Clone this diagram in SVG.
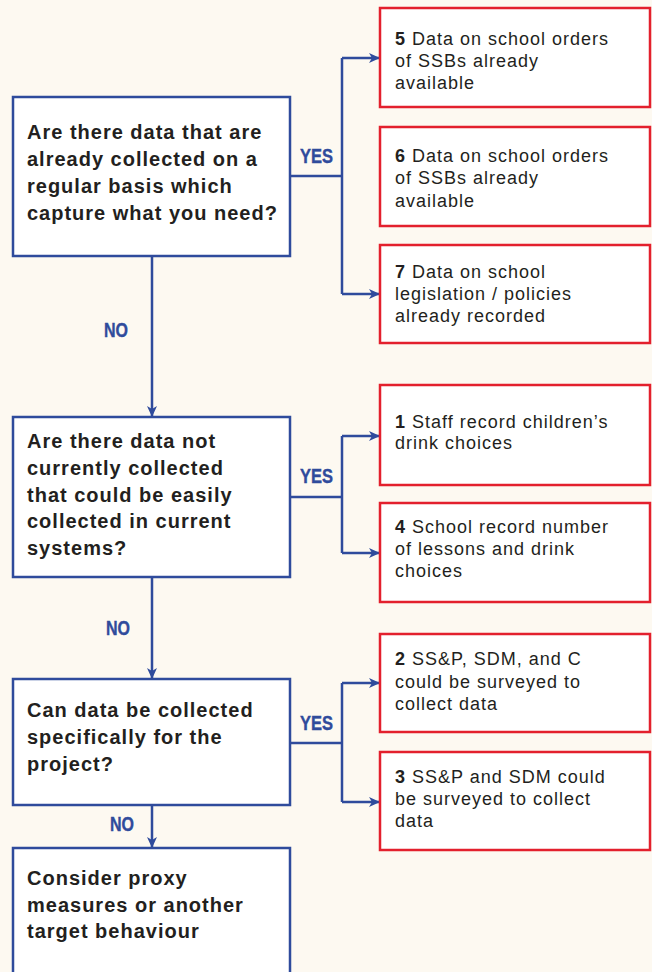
<svg xmlns="http://www.w3.org/2000/svg" width="652" height="972" viewBox="0 0 652 972">
  <defs>
    <style>
      .q { fill: #ffffff; stroke: #2f4b9c; stroke-width: 2.5; }
      .r { fill: #ffffff; stroke: #e3202d; stroke-width: 2.5; }
      .qt { font-family: "Liberation Sans", Arial, sans-serif; font-weight: bold; font-size: 20px; letter-spacing: 1px; fill: #231f20; }
      .rt { font-family: "Liberation Sans", Arial, sans-serif; font-size: 18px; letter-spacing: 1px; fill: #231f20; }
      .rt tspan.n { font-weight: bold; }
      .lbl { font-family: "Liberation Sans", Arial, sans-serif; font-weight: bold; font-size: 21px; fill: #2f4b9c; stroke: #2f4b9c; stroke-width: 0.4; }
      .c { fill: none; stroke: #2f4b9c; stroke-width: 2.5; }
    </style>
    <marker id="arr" markerUnits="userSpaceOnUse" markerWidth="12" markerHeight="12" viewBox="0 0 12 12" refX="11" refY="6" orient="auto">
      <path d="M0,1 L11,6 L0,11 L3,6 Z" fill="#2f4b9c"/>
    </marker>
  </defs>

  <rect width="652" height="972" fill="#fdf9f1"/>

  <!-- connectors -->
  <g id="connectors">
    <!-- question 1 -->
    <path class="c" d="M290,176 H342"/>
    <path class="c" d="M342,58 V294"/>
    <path class="c" d="M342,58 H380" marker-end="url(#arr)"/>
    <path class="c" d="M342,294 H380" marker-end="url(#arr)"/>
    <path class="c" d="M152,256 V417" marker-end="url(#arr)"/>
    <!-- question 2 -->
    <path class="c" d="M290,497 H342"/>
    <path class="c" d="M342,436 V553"/>
    <path class="c" d="M342,436 H380" marker-end="url(#arr)"/>
    <path class="c" d="M342,553 H380" marker-end="url(#arr)"/>
    <path class="c" d="M152,577 V679" marker-end="url(#arr)"/>
    <!-- question 3 -->
    <path class="c" d="M290,743 H342"/>
    <path class="c" d="M342,683 V802"/>
    <path class="c" d="M342,683 H380" marker-end="url(#arr)"/>
    <path class="c" d="M342,802 H380" marker-end="url(#arr)"/>
    <path class="c" d="M152,805 V848" marker-end="url(#arr)"/>

    <text class="lbl" x="300" y="163" textLength="33" lengthAdjust="spacingAndGlyphs">YES</text>
    <text class="lbl" x="104" y="337" textLength="24" lengthAdjust="spacingAndGlyphs">NO</text>
    <text class="lbl" x="300" y="483" textLength="33" lengthAdjust="spacingAndGlyphs">YES</text>
    <text class="lbl" x="106" y="635" textLength="24" lengthAdjust="spacingAndGlyphs">NO</text>
    <text class="lbl" x="300" y="730" textLength="33" lengthAdjust="spacingAndGlyphs">YES</text>
    <text class="lbl" x="110" y="831" textLength="24" lengthAdjust="spacingAndGlyphs">NO</text>
  </g>

  <!-- question boxes -->
  <g id="q1">
    <rect class="q" x="13" y="97" width="277" height="159"/>
    <text class="qt"><tspan x="27" y="139">Are there data that are</tspan><tspan x="27" y="166">already collected on a</tspan><tspan x="27" y="193">regular basis which</tspan><tspan x="27" y="220">capture what you need?</tspan></text>
  </g>
  <g id="q2">
    <rect class="q" x="13" y="417" width="277" height="160"/>
    <text class="qt"><tspan x="27" y="448">Are there data not</tspan><tspan x="27" y="475">currently collected</tspan><tspan x="27" y="502">that could be easily</tspan><tspan x="27" y="528">collected in current</tspan><tspan x="27" y="555">systems?</tspan></text>
  </g>
  <g id="q3">
    <rect class="q" x="13" y="679" width="277" height="126"/>
    <text class="qt"><tspan x="27" y="717">Can data be collected</tspan><tspan x="27" y="744">specifically for the</tspan><tspan x="27" y="771">project?</tspan></text>
  </g>
  <g id="q4">
    <rect class="q" x="13" y="848" width="277" height="140"/>
    <text class="qt"><tspan x="27" y="885">Consider proxy</tspan><tspan x="27" y="912">measures or another</tspan><tspan x="27" y="938">target behaviour</tspan></text>
  </g>

  <!-- outcome boxes -->
  <g id="o5">
    <rect class="r" x="380" y="8" width="270" height="99"/>
    <text class="rt"><tspan x="395" y="45"><tspan class="n">5</tspan> Data on school orders</tspan><tspan x="395" y="67">of SSBs already</tspan><tspan x="395" y="89">available</tspan></text>
  </g>
  <g id="o6">
    <rect class="r" x="380" y="127" width="270" height="99"/>
    <text class="rt"><tspan x="395" y="162"><tspan class="n">6</tspan> Data on school orders</tspan><tspan x="395" y="184">of SSBs already</tspan><tspan x="395" y="207">available</tspan></text>
  </g>
  <g id="o7">
    <rect class="r" x="380" y="245" width="270" height="98"/>
    <text class="rt"><tspan x="395" y="278"><tspan class="n">7</tspan> Data on school</tspan><tspan x="395" y="300">legislation / policies</tspan><tspan x="395" y="322">already recorded</tspan></text>
  </g>
  <g id="o1">
    <rect class="r" x="380" y="385" width="270" height="100"/>
    <text class="rt"><tspan x="395" y="428"><tspan class="n">1</tspan> Staff record children’s</tspan><tspan x="395" y="449">drink choices</tspan></text>
  </g>
  <g id="o4">
    <rect class="r" x="380" y="503" width="270" height="99"/>
    <text class="rt"><tspan x="395" y="533"><tspan class="n">4</tspan> School record number</tspan><tspan x="395" y="555">of lessons and drink</tspan><tspan x="395" y="577">choices</tspan></text>
  </g>
  <g id="o2">
    <rect class="r" x="380" y="634" width="270" height="98"/>
    <text class="rt"><tspan x="395" y="665"><tspan class="n">2</tspan> SS&amp;P, SDM, and C</tspan><tspan x="395" y="688">could be surveyed to</tspan><tspan x="395" y="710">collect data</tspan></text>
  </g>
  <g id="o3">
    <rect class="r" x="380" y="752" width="270" height="98"/>
    <text class="rt"><tspan x="395" y="783"><tspan class="n">3</tspan> SS&amp;P and SDM could</tspan><tspan x="395" y="805">be surveyed to collect</tspan><tspan x="395" y="827">data</tspan></text>
  </g>
</svg>
